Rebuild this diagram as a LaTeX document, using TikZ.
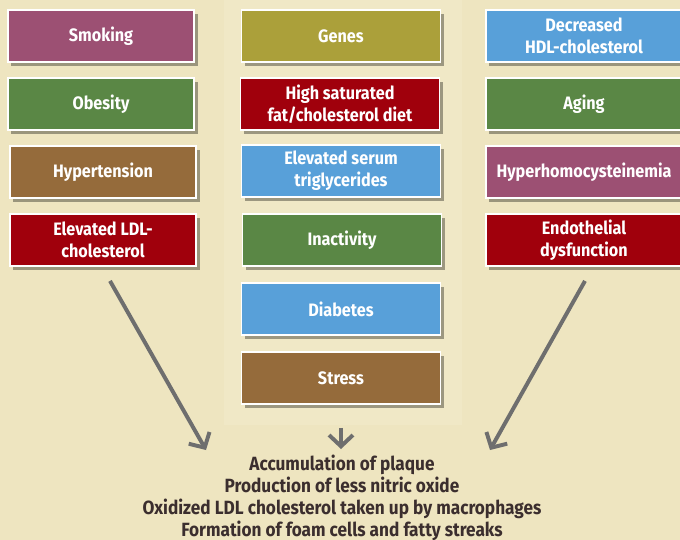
\documentclass[tikz,border=0pt]{standalone}
\usepackage{fontspec}
\setmainfont{Fira Sans}[FakeStretch=0.9]
\usetikzlibrary{arrows.meta,shadows}

\definecolor{bgbeige}{HTML}{EEE5C0}
\definecolor{panelbeige}{HTML}{F0E8C6}
\definecolor{mauve}{HTML}{9C5073}
\definecolor{leaf}{HTML}{5A8745}
\definecolor{bark}{HTML}{956B3B}
\definecolor{blood}{HTML}{A0000C}
\definecolor{olive}{HTML}{ABA03A}
\definecolor{sky}{HTML}{58A0D9}
\definecolor{arrowgray}{HTML}{6E6E6E}
\definecolor{inkdark}{HTML}{3B2E2E}

\tikzset{
  riskbox/.style = {draw=white, line width=1.3pt, text=white, font=\bfseries\fontsize{12.8}{15.5}\selectfont,
    align=center, minimum height=1.3cm, inner sep=1pt,
    drop shadow={shadow xshift=2.5pt, shadow yshift=-2.5pt, fill=black, opacity=0.35}},
  leftbox/.style = {riskbox, minimum width=4.65cm},
  midbox/.style = {riskbox, minimum width=4.97cm},
  rightbox/.style = {riskbox, minimum width=4.9cm},
  flow/.style = {draw=arrowgray, line width=2.8pt, -{Straight Barb[length=8pt,width=17pt,line width=2.8pt]}}
}

\begin{document}
\begin{tikzpicture}[x=0.025cm, y=-0.025cm]
\useasboundingbox (0,0) rectangle (680,540);
\clip (0,0) rectangle (680,540);
\fill[bgbeige] (0,0) rectangle (680,540);
\fill[panelbeige] (224,0) rectangle (462,425);

% left column
\node[leftbox, fill=mauve] (smoking) at (101,36) {Smoking};
\node[leftbox, fill=leaf] (obesity) at (101,104) {Obesity};
\node[leftbox, fill=bark] (hypertension) at (103,172) {Hypertension};
\node[leftbox, fill=blood] (ldl) at (103,240) {Elevated LDL-\\cholesterol};

% middle column
\node[midbox, fill=olive] (genes) at (341,36) {Genes};
\node[midbox, fill=blood] (diet) at (340,104) {High saturated\\fat/cholesterol diet};
\node[midbox, fill=sky] (triglycerides) at (341,171) {Elevated serum\\triglycerides};
\node[midbox, fill=leaf] (inactivity) at (342,240) {Inactivity};
\node[midbox, fill=sky] (diabetes) at (341,309) {Diabetes};
\node[midbox, fill=bark] (stress) at (341,378) {Stress};

% right column
\node[rightbox, fill=sky] (hdl) at (584,36) {Decreased\\HDL-cholesterol};
\node[rightbox, fill=leaf] (aging) at (584,104) {Aging};
\node[rightbox, fill=mauve] (homocysteine) at (584,172) {Hyperhomocysteinemia};
\node[rightbox, fill=blood] (endothelial) at (584,240) {Endothelial\\dysfunction};

% outcome
\node[text=inkdark, font=\bfseries\fontsize{13.6}{15.6}\selectfont, align=center] (outcome) at (342,498)
  {Accumulation of plaque\\Production of less nitric oxide\\Oxidized LDL cholesterol taken up by macrophages\\Formation of foam cells and fatty streaks};

\coordinate (leftend) at (206,450);
\coordinate (midend) at (341,449);
\coordinate (rightend) at (490,450);

\draw[flow] ([shift={(7,14)}]ldl.south) -- (leftend);
\draw[flow] ([yshift=-23*0.025cm]stress.south) -- (midend);
\draw[flow] ([shift={(1,14)}]endothelial.south) -- (rightend);
\end{tikzpicture}
\end{document}
